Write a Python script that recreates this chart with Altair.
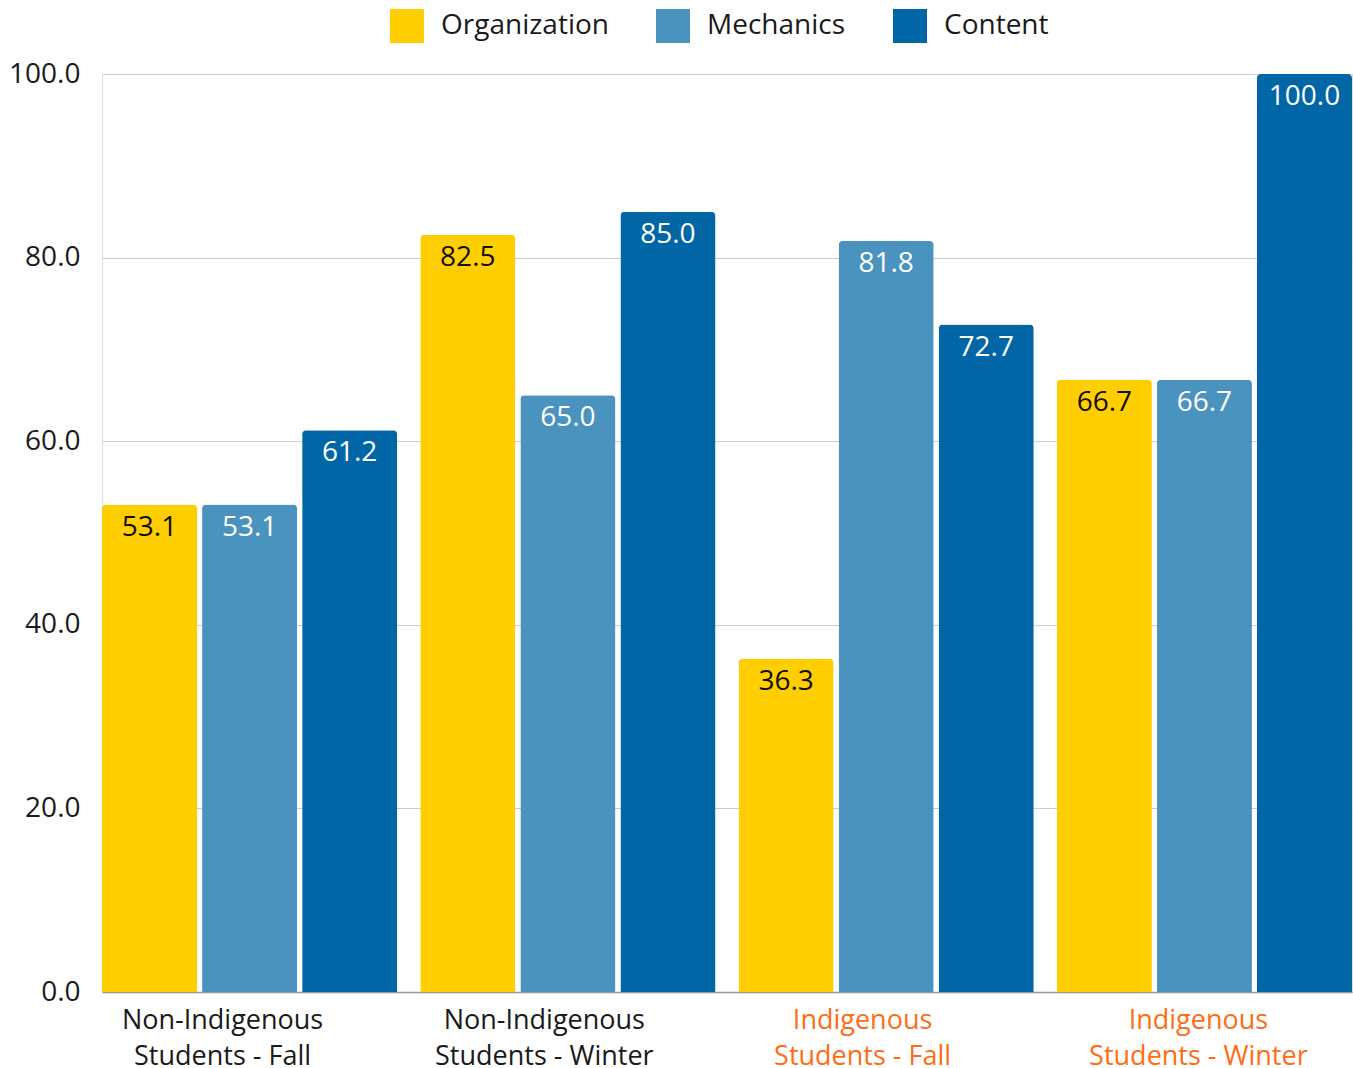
import altair as alt
import pandas as pd

groups = ["Non-Indigenous Students - Fall", "Non-Indigenous Students - Winter",
          "Indigenous Students - Fall", "Indigenous Students - Winter"]
series = ["Organization", "Mechanics", "Content"]
organization = [53.1, 82.5, 36.3, 66.7]
mechanics = [53.1, 65.0, 81.8, 66.7]
content = [61.2, 85.0, 72.7, 100.0]
colors = ["#FFCE00", "#4A93BE", "#0066A6"]

rows = []
for i, g in enumerate(groups):
    for s, vals in zip(series, [organization, mechanics, content]):
        rows.append({"group": g, "series": s, "value": vals[i]})
df = pd.DataFrame(rows)

FONT = "Open Sans"
NB = "\u00a0"
WJ = "\u2060"
pad_expr = (f"(datum.value === '{groups[0]}' ? '{NB * 6 + WJ}' : "
            f"(datum.value === '{groups[3]}' ? '' : '{NB * 5 + WJ}'))")
label_expr = ("[slice(datum.label,0,indexof(datum.label,' Students')) + " + pad_expr +
              ", slice(datum.label,indexof(datum.label,' Students')+1) + " + pad_expr + "]")

x = alt.X("group:N", sort=groups, title=None,
          scale=alt.Scale(paddingInner=0.0725, paddingOuter=0),
          axis=alt.Axis(labelAngle=0, labelFontSize=27, labelFont=FONT, labelLimit=0,
                        labelExpr=label_expr, labelOffset=-6,
                        labelLineHeight=36, labelPadding=15, ticks=False,
                        domainColor="#999999", domainWidth=1.5,
                        labelColor={"condition": {"test": "indexof(datum.value,'Non-')===0", "value": "#1a1a1a"},
                                    "value": "#FF6D12"}))
xo = alt.XOffset("series:N", sort=series, scale=alt.Scale(paddingInner=0.05, paddingOuter=0))
y = alt.Y("value:Q", title=None,
          scale=alt.Scale(domain=[0, 100], nice=False),
          axis=alt.Axis(values=[0, 20, 40, 60, 80, 100], format=".1f", labelFontSize=28,
                        labelFont=FONT, labelColor="#1a1a1a", labelPadding=22,
                        ticks=False, domain=False, gridColor="#CCCCCC", gridWidth=1))
color = alt.Color("series:N", sort=series, title=None,
                  scale=alt.Scale(domain=series, range=colors),
                  legend=alt.Legend(orient="none", legendX=288, legendY=-65, direction="horizontal",
                                    symbolType="square", symbolSize=1156, symbolStrokeWidth=0,
                                    symbolOpacity=1, labelLimit=0,
                                    labelFontSize=28, labelFont=FONT, labelColor="#1a1a1a",
                                    labelOffset=17, columnPadding=47))

base = alt.Chart(df)
bars = base.mark_bar(cornerRadiusTopLeft=4, cornerRadiusTopRight=4).encode(
    x=x, xOffset=xo, y=y, color=color)
labels = base.mark_text(baseline="top", dy=9, fontSize=28, font=FONT).encode(
    x=alt.X("group:N", sort=groups), xOffset=alt.XOffset("series:N", sort=series),
    y="value:Q",
    text=alt.Text("value:Q", format=".1f"),
    color=alt.condition(alt.datum.series == "Organization", alt.value("#111111"), alt.value("#FFFFFF")))

chart = alt.layer(bars, labels).properties(
    width=1250, height=918,
    autosize=alt.AutoSizeParams(type="none"),
    padding={"left": 102, "top": 74, "right": 1, "bottom": 76},
).configure_view(stroke=None).configure(font=FONT)

chart.save("out.html", embed_options={"renderer": "svg", "actions": False})
